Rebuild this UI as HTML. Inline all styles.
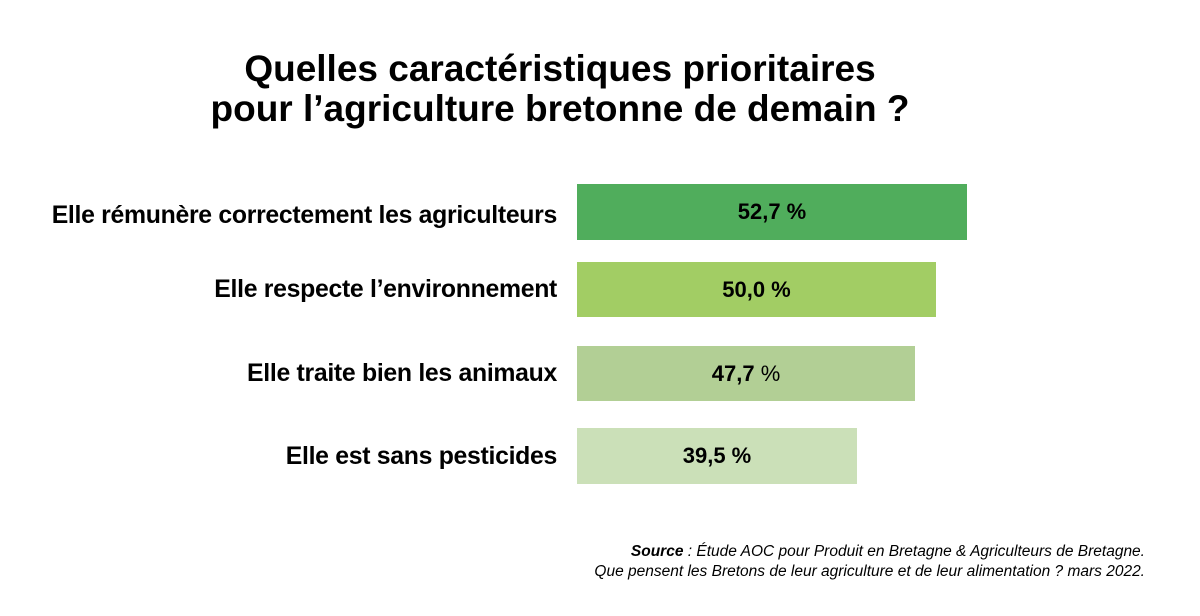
<!DOCTYPE html>
<html><head><meta charset="utf-8"><style>
body{margin:0;width:1200px;height:616px;background:#fff;position:relative;overflow:hidden;font-family:"Liberation Sans",sans-serif;color:#000}
.t{position:absolute;left:0;width:1120px;text-align:center;font-weight:bold;font-size:37px;line-height:40px}
.l{position:absolute;right:643px;font-weight:bold;font-size:24.8px;line-height:56px;white-space:nowrap;letter-spacing:-0.3px}
.b{position:absolute;left:577px;font-weight:bold;font-size:22px;text-align:center;line-height:56px}
.s{position:absolute;right:55px;font-style:italic;font-size:15.5px;text-align:right;line-height:20px}
</style></head><body>
<div class="t" style="top:49px">Quelles caractéristiques prioritaires</div>
<div class="t" style="top:89px">pour l’agriculture bretonne de demain ?</div>
<div class="l" style="top:188px">Elle rémunère correctement les agriculteurs</div>
<div class="l" style="top:262px">Elle respecte l’environnement</div>
<div class="l" style="top:346px">Elle traite bien les animaux</div>
<div class="l" style="top:429px">Elle est sans pesticides</div>
<div class="b" style="top:184px;width:390px;height:56px;background:#50ad5c">52,7 %</div>
<div class="b" style="top:262px;width:359px;height:55px;background:#a2cd64">50,0 %</div>
<div class="b" style="top:346px;width:338px;height:55px;background:#b2cf95">47,7 <span style="font-weight:normal">%</span></div>
<div class="b" style="top:428px;width:280px;height:56px;background:#cbe0b8">39,5 %</div>
<div class="s" style="top:542px"><b>Source</b> : Étude AOC pour Produit en Bretagne &amp; Agriculteurs de Bretagne.</div>
<div class="s" style="top:562px">Que pensent les Bretons de leur agriculture et de leur alimentation ? mars 2022.</div>
</body></html>
